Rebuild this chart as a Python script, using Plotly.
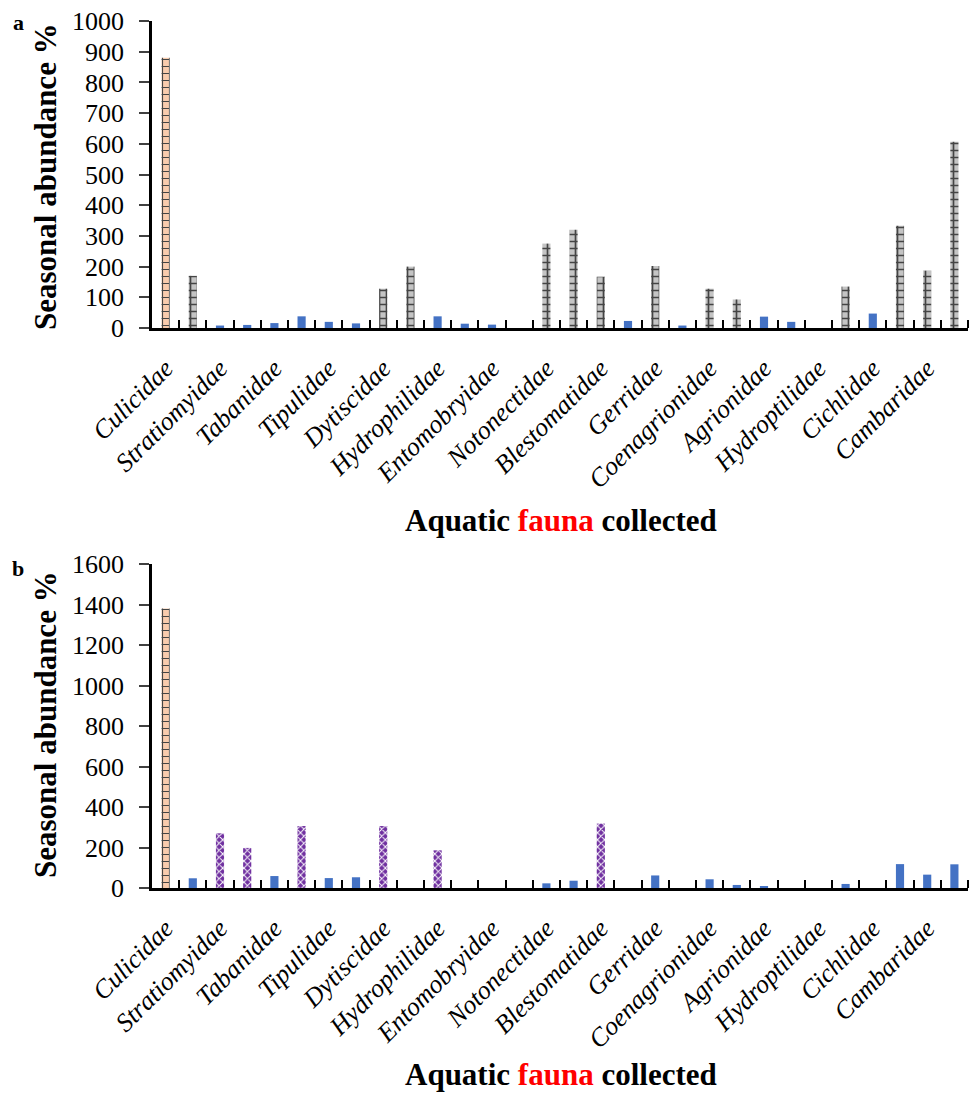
import plotly.graph_objects as go

# ---- data ----
families = ["Culicidae", "Stratiomyidae", "Tabanidae", "Tipulidae", "Dytiscidae",
            "Hydrophilidae", "Entomobryidae", "Notonectidae", "Blestomatidae", "Gerridae",
            "Coenagrionidae", "Agrionidae", "Hydroptilidae", "Cichlidae", "Cambaridae"]
n_cat = 30  # two bars per labelled family slot

abundance_a = [880, 170, 8, 10, 16, 38, 20, 15, 128, 200,
               38, 14, 11, 0, 275, 320, 167, 23, 202, 8,
               128, 93, 37, 20, 0, 135, 47, 333, 187, 607]
group_a = ["peak", "high", "low", "low", "low", "low", "low", "low", "high", "high",
           "low", "low", "low", "low", "high", "high", "high", "low", "high", "low",
           "high", "high", "low", "low", "low", "high", "low", "high", "high", "high"]

abundance_b = [1380, 48, 270, 198, 59, 306, 49, 53, 306, 0,
               186, 0, 0, 0, 23, 36, 318, 0, 62, 0,
               43, 15, 5, 0, 0, 20, 0, 118, 66, 117]
group_b = ["peak", "low", "mid", "mid", "low", "mid", "low", "low", "mid", "low",
           "mid", "low", "low", "low", "low", "low", "mid", "low", "low", "low",
           "low", "low", "low", "low", "low", "low", "low", "low", "low", "low"]

# ---- styles ----
STYLE = {
    "peak": dict(color="#F8CBAD", shape="+", fg="#5A5A5A", size=7, sol=0.3),
    "high": dict(color="#C4C4C4", shape="+", fg="#1F3A7A", size=7, sol=0.42),
    "low":  dict(color="#4472C4", shape="", fg="#4472C4", size=8, sol=0.3),
    "mid":  dict(color="#7030A0", shape="x", fg="#C9B0E0", size=5, sol=0.35),
}

W, H = 969, 1096
xs = list(range(n_cat))
fig = go.Figure()


def add_panel(values, groups, xa, ya):
    st = [STYLE[g] for g in groups]
    fig.add_trace(go.Bar(
        x=xs, y=values, xaxis=xa, yaxis=ya, width=0.3,
        marker=dict(
            color=[s["color"] for s in st],
            line=dict(width=0),
            pattern=dict(shape=[s["shape"] for s in st],
                         fgcolor=[s["fg"] for s in st],
                         size=[s["size"] for s in st],
                         solidity=[s["sol"] for s in st],
                         fillmode="overlay", fgopacity=1),
        ),
        showlegend=False,
    ))


add_panel(abundance_a, group_a, "x", "y")
add_panel(abundance_b, group_b, "x2", "y2")

xdom = [152 / W, 968 / W]
dom_a = [1 - 328 / H, 1 - 21 / H]
dom_b = [1 - 888 / H, 1 - 564 / H]

tickfont_x = dict(family="Liberation Serif", size=26, color="black", style="italic")
tickfont_y = dict(family="Liberation Serif", size=26, color="black")

xcommon = dict(
    range=[-0.5, n_cat - 0.5], showline=True, linecolor="black", linewidth=2.5,
    tickmode="array", tickvals=xs[::2], ticktext=families, ticks="", tickangle=-45,
    ticklabelstandoff=12,
    tickfont=tickfont_x, showgrid=False, zeroline=False, automargin=False,
    minor=dict(tickmode="array", tickvals=[i + 0.5 for i in range(n_cat)],
               ticks="inside", ticklen=8, tickwidth=2, tickcolor="black", showgrid=False),
)
ycommon = dict(showline=True, linecolor="black", linewidth=2.5,
               ticks="outside", ticklen=10, tickwidth=1.5, tickcolor="#404040",
               ticklabelstandoff=10,
               tickfont=tickfont_y, showgrid=False, zeroline=False, automargin=False)

fig.update_layout(
    width=W, height=H, margin=dict(l=0, r=0, t=0, b=0, autoexpand=False),
    paper_bgcolor="white", plot_bgcolor="white",
    xaxis=dict(domain=xdom, anchor="y", **xcommon),
    yaxis=dict(domain=dom_a, anchor="x", range=[0, 1000], dtick=100, **ycommon),
    xaxis2=dict(domain=xdom, anchor="y2", **xcommon),
    yaxis2=dict(domain=dom_b, anchor="x2", range=[0, 1600], dtick=200, **ycommon),
)

ytitle_font = dict(family="Liberation Serif", size=31, color="black")
xtitle_font = dict(family="Liberation Serif", size=31, color="black")
xtitle = "<b>Aquatic <span style='color:red'>fauna</span> collected</b>"
for ytitle_px, xtitle_px, panel_lbl, lbl_px in [(177, 520, "a", 22), (725, 1074, "b", 568)]:
    fig.add_annotation(text="<b>Seasonal abundance %</b>", textangle=-90,
                       x=45 / W, y=1 - ytitle_px / H, xref="paper", yref="paper",
                       showarrow=False, font=ytitle_font, xanchor="center", yanchor="middle")
    fig.add_annotation(text=xtitle, x=561 / W, y=1 - xtitle_px / H, xref="paper", yref="paper",
                       showarrow=False, font=xtitle_font, xanchor="center", yanchor="middle")
    fig.add_annotation(text="<b>" + panel_lbl + "</b>", x=18 / W, y=1 - lbl_px / H,
                       xref="paper", yref="paper", showarrow=False,
                       font=dict(family="Liberation Serif", size=22, color="black"),
                       xanchor="center", yanchor="middle")

fig.write_html("out.html", config={"displayModeBar": False},
               post_script="document.body.style.margin='0';")
